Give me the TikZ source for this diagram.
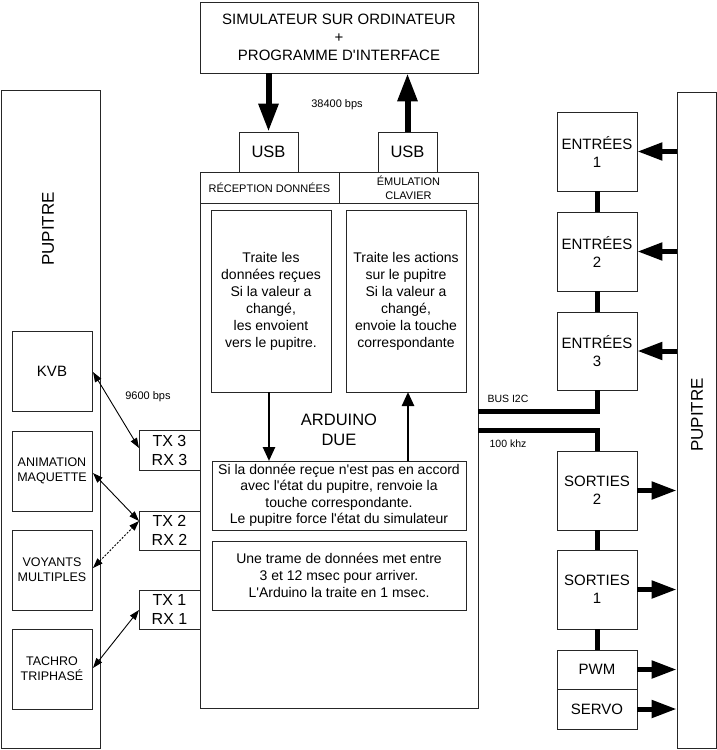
\documentclass[tikz,border=0pt]{standalone}
\usepackage{fontspec}
\setmainfont{Liberation Sans}
\usetikzlibrary{arrows.meta}
\begin{document}
\begin{tikzpicture}[x=1pt,y=-1pt,
  box/.style={draw=black!85, line width=0.8pt, inner sep=0pt, align=center},
  sz/.style 2 args={minimum width=#1pt, minimum height=#2pt},
  fs/.style 2 args={font=\fontsize{#1}{#2}\selectfont},
  toparrow/.style={line width=6pt, -{Triangle[length=28pt,width=19pt]}},
  fatarrow/.style={line width=5pt, -{Triangle[length=25pt,width=17pt]}},
  midarrow/.style={line width=2.5pt, -{Triangle[length=14pt,width=12pt]}},
  thinarrow/.style={line width=0.9pt, {Triangle[length=10pt,width=7pt]}-{Triangle[length=10pt,width=7pt]}},
  bus/.style={line width=5pt},
  lbl/.style={inner sep=0pt, fs={11}{13}}
]
\useasboundingbox (0,0) rectangle (717,750);
% top
\node[box, sz={278}{71}, fs={15}{18}] (top) at (339,37.5) {SIMULATEUR SUR ORDINATEUR\\+\\PROGRAMME D\textquotesingle INTERFACE};
\node[box, sz={59}{40}, fs={16.5}{18}] (usb1) at (268.5,152) {USB};
\node[box, sz={59}{40}, fs={16.5}{18}] (usb2) at (407.5,152) {USB};
\draw[toparrow] (usb1.north |- top.south) -- (usb1.north);
\draw[toparrow] (usb2.north) -- (usb2.north |- top.south);
\node[lbl] (bps1) at (337,105) {38400 bps};
% main arduino
\node[box, sz={278}{536}] (main) at (339,440) {};
\node[box, sz={139}{31}, fs={11}{14}] (hdr1) at (269.5,187.5) {RÉCEPTION DONNÉES};
\node[box, sz={139}{31}, fs={11}{14}] (hdr2) at (408.5,187.5) {ÉMULATION\\CLAVIER};
\node[box, sz={120}{182}, fs={14}{17}] (inL) at (271,301) {Traite les\\données reçues\\Si la valeur a\\changé,\\les envoient\\vers le pupitre.};
\node[box, sz={120}{182}, fs={14}{17}] (inR) at (406,301) {Traite les actions\\sur le pupitre\\Si la valeur a\\changé,\\envoie la touche\\correspondante};
\node[fs={16.5}{20}, align=center, inner sep=0pt] (ard) at (339,430) {ARDUINO\\DUE};
\node[box, sz={254}{69}, fs={14}{16.5}] (si) at (339,495.5) {Si la donnée reçue n\textquotesingle est pas en accord\\avec l\textquotesingle état du pupitre, renvoie la\\touche correspondante.\\Le pupitre force l\textquotesingle état du simulateur};
\node[box, sz={254}{69}, fs={14}{17}] (une) at (339,575.5) {Une trame de données met entre\\3 et 12 msec pour arriver.\\L\textquotesingle Arduino la traite en 1 msec.};
\draw[midarrow] (269,392) -- (269,461);
\draw[midarrow] (408,461) -- (408,392);
% serial ports
\node[box, sz={61}{40}, fs={16}{19}] (tx3) at (169.5,450) {TX 3\\RX 3};
\node[box, sz={61}{39}, fs={16}{19}] (tx2) at (169.5,530.5) {TX 2\\RX 2};
\node[box, sz={61}{39}, fs={16}{19}] (tx1) at (169.5,609.5) {TX 1\\RX 1};
% left pupitre
\node[box, sz={99}{658}] (lpup) at (50.5,419) {};
\node[rotate=90, fs={17}{20}, inner sep=0pt] (lpupt) at (48,229) {PUPITRE};
\node[box, sz={80}{80}, fs={15}{18}] (kvb) at (52,371) {KVB};
\node[box, sz={80}{80}, fs={12.5}{15}] (anim) at (52,471) {ANIMATION\\MAQUETTE};
\node[box, sz={80}{80}, fs={12.5}{15}] (voy) at (52,570) {VOYANTS\\MULTIPLES};
\node[box, sz={80}{80}, fs={12.5}{15}] (tach) at (52,669) {TACHRO\\TRIPHASÉ};
\coordinate (k1) at (93,372);
\coordinate (k2) at (139,448);
\coordinate (a1) at (93,473);
\coordinate (a2) at (139,521);
\coordinate (v1) at (93,568);
\coordinate (t1) at (139,610);
\coordinate (t2) at (93,668);
\draw[thinarrow] (k1) -- (k2);
\draw[thinarrow] (a1) -- (a2);
\draw[thinarrow, dash pattern=on 2pt off 1.5pt] (v1) -- (a2);
\draw[thinarrow] (t1) -- (t2);
\node[lbl] (bps2) at (148,397) {9600 bps};
% right side
\node[box, sz={39}{656}] (rpup) at (696.5,420) {};
\node[rotate=90, fs={17}{20}, inner sep=0pt] (rpupt) at (697,415) {PUPITRE};
\node[box, sz={80}{79}, fs={15}{18}] (e1) at (597,151.5) {ENTRÉES\\1};
\node[box, sz={80}{79}, fs={15}{18}] (e2) at (597,251.5) {ENTRÉES\\2};
\node[box, sz={80}{78}, fs={15}{18}] (e3) at (597,351) {ENTRÉES\\3};
\node[box, sz={80}{79}, fs={15}{18}] (s2) at (597,490.5) {SORTIES\\2};
\node[box, sz={80}{79}, fs={15}{18}] (s1) at (597,589.5) {SORTIES\\1};
\node[box, sz={80}{39}, fs={15}{18}] (pwm) at (597,669.5) {PWM};
\node[box, sz={80}{40}, fs={15}{18}] (servo) at (597,709) {SERVO};
\draw[bus] (e1.south) -- (e2.north);
\draw[bus] (e2.south) -- (e3.north);
\draw[bus] (s2.south) -- (s1.north);
\draw[bus] (s1.south) -- (pwm.north);
\coordinate (b1) at (478,411);
\coordinate (b2) at (478,430);
\draw[bus] (b1) -| (e3.south);
\draw[bus] (b2) -| (s2.north);
\node[lbl, fs={10.5}{13}] (busl) at (508,399) {BUS I2C};
\node[lbl, fs={10.5}{13}] (khz) at (508,444) {100 khz};
\foreach \n in {e1,e2,e3} \draw[fatarrow] (rpup.west |- \n.east) -- (\n.east);
\foreach \n in {s2,s1,pwm,servo} \draw[fatarrow] (\n.east) -- (rpup.west |- \n.east);
\end{tikzpicture}
\end{document}
